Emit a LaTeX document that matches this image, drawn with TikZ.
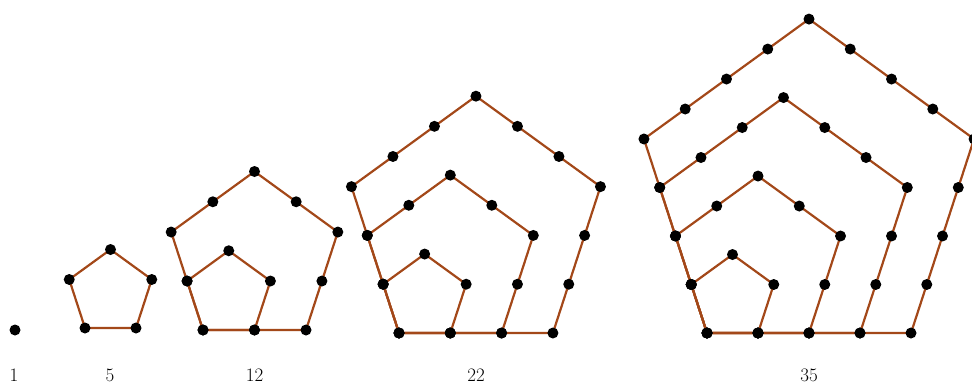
\documentclass[tikz,border=0pt]{standalone}
\definecolor{edgec}{RGB}{163,72,25}
\tikzset{
  edge/.style={draw=edgec,line width=2.2pt,line join=round},
  dotc/.style={fill=black},
  lbl/.style={font=\fontsize{19}{19}\selectfont,anchor=base}
}
% #1 x0, #2 y0, #3 side, #4 n
\newcommand\pentfig[4]{%
  \pgfmathtruncatemacro\mtop{#4-1}%
  \foreach \m in {1,...,\mtop}{%
    \draw[edge] (#1,#2) -- ++(\m*#3,0) -- ++({\m*#3*0.309017},{-\m*#3*0.951057})
      -- ++({-\m*#3*0.809017},{-\m*#3*0.587785}) -- ++({-\m*#3*0.809017},{\m*#3*0.587785}) -- cycle;
  }%
  \foreach \m in {1,...,\mtop}{%
    \pgfmathtruncatemacro\tmax{\m-1}%
    \foreach \vx/\vy/\dx/\dy in {0/0/1/0, 1/0/0.309017/-0.951057, 1.309017/-0.951057/-0.809017/-0.587785, 0.5/-1.538842/-0.809017/0.587785, -0.309017/-0.951057/0.309017/0.951057}{%
      \foreach \t in {0,...,\tmax}{%
        \fill[dotc] ({#1+(\m*\vx+\t*\dx)*#3},{#2+(\m*\vy+\t*\dy)*#3}) circle (5.5);
      }%
    }%
  }%
}
\begin{document}
\begin{tikzpicture}[x=1pt,y=-1pt]
\useasboundingbox (0,0) rectangle (972,383);
\fill[dotc] (15,330) coordinate (p1) circle (5.5);
\pentfig{85}{328}{51}{2}
\pentfig{203}{330}{51.5}{3}
\pentfig{399}{333}{51.3}{4}
\pentfig{707}{333}{51}{5}
\node[lbl] (l1) at (14,381) {1};
\node[lbl] (l5) at (110,381) {5};
\node[lbl] (l12) at (254.5,381) {12};
\node[lbl] (l22) at (476,381) {22};
\node[lbl] (l35) at (809,381) {35};
\end{tikzpicture}
\end{document}
